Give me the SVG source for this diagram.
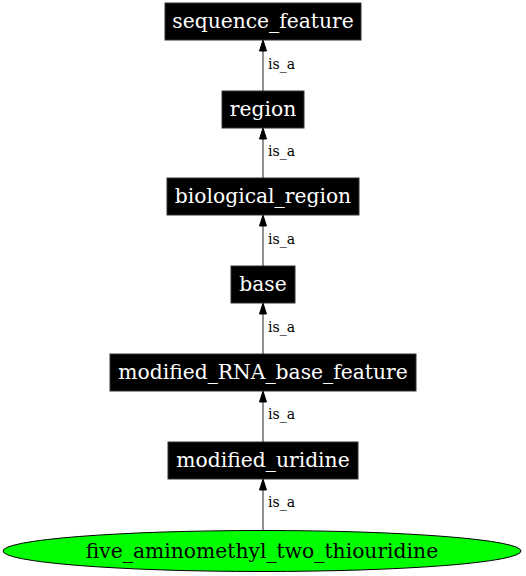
<svg xmlns="http://www.w3.org/2000/svg" width="526" height="576" viewBox="0 0 526 576">
<style>
.box{fill:#000;stroke:#333;stroke-width:1}
.nt{font-family:"DejaVu Serif",serif;font-size:20.3px;fill:#fff;text-anchor:middle}
.et{font-family:"DejaVu Serif",serif;font-size:14px;fill:#000}
.edge{stroke:#555;stroke-width:1.3;fill:none}
.ah{fill:#000;stroke:#000;stroke-width:1}
</style>
<rect width="526" height="576" fill="#fff"/>
<g id="connectors">
<line class="edge" x1="263" y1="51" x2="263" y2="91"/><polygon class="ah" points="263,40 259.5,51 266.5,51"/><text class="et" x="268" y="69">is_a</text>
<line class="edge" x1="263" y1="139" x2="263" y2="178"/><polygon class="ah" points="263,128 259.5,139 266.5,139"/><text class="et" x="268" y="156">is_a</text>
<line class="edge" x1="263" y1="226" x2="263" y2="266"/><polygon class="ah" points="263,215 259.5,226 266.5,226"/><text class="et" x="268" y="244">is_a</text>
<line class="edge" x1="263" y1="314" x2="263" y2="354"/><polygon class="ah" points="263,303 259.5,314 266.5,314"/><text class="et" x="268" y="332">is_a</text>
<line class="edge" x1="263" y1="402" x2="263" y2="442"/><polygon class="ah" points="263,391 259.5,402 266.5,402"/><text class="et" x="268" y="419">is_a</text>
<line class="edge" x1="263" y1="490" x2="263" y2="530"/><polygon class="ah" points="263,479 259.5,490 266.5,490"/><text class="et" x="268" y="507">is_a</text>
</g>
<g id="sequence_feature"><rect class="box" x="165" y="3" width="196" height="37"/><text class="nt" x="263" y="28">sequence_feature</text></g>
<g id="region"><rect class="box" x="222" y="91" width="82" height="37"/><text class="nt" x="263" y="116">region</text></g>
<g id="biological_region"><rect class="box" x="167" y="178" width="192" height="37"/><text class="nt" x="263" y="203">biological_region</text></g>
<g id="base"><rect class="box" x="231" y="266" width="64" height="37"/><text class="nt" x="263" y="291">base</text></g>
<g id="modified_RNA_base_feature"><rect class="box" x="110" y="354" width="306" height="37"/><text class="nt" x="263" y="379">modified_RNA_base_feature</text></g>
<g id="modified_uridine"><rect class="box" x="168" y="442" width="190" height="37"/><text class="nt" x="263" y="467">modified_uridine</text></g>
<g id="five_aminomethyl_two_thiouridine"><ellipse cx="262" cy="551" rx="259" ry="20.5" fill="#00ff00" stroke="#000" stroke-width="1"/><text x="262" y="557.5" style="font-family:'DejaVu Serif',serif;font-size:20.3px;fill:#000;text-anchor:middle">five_aminomethyl_two_thiouridine</text></g>
</svg>
